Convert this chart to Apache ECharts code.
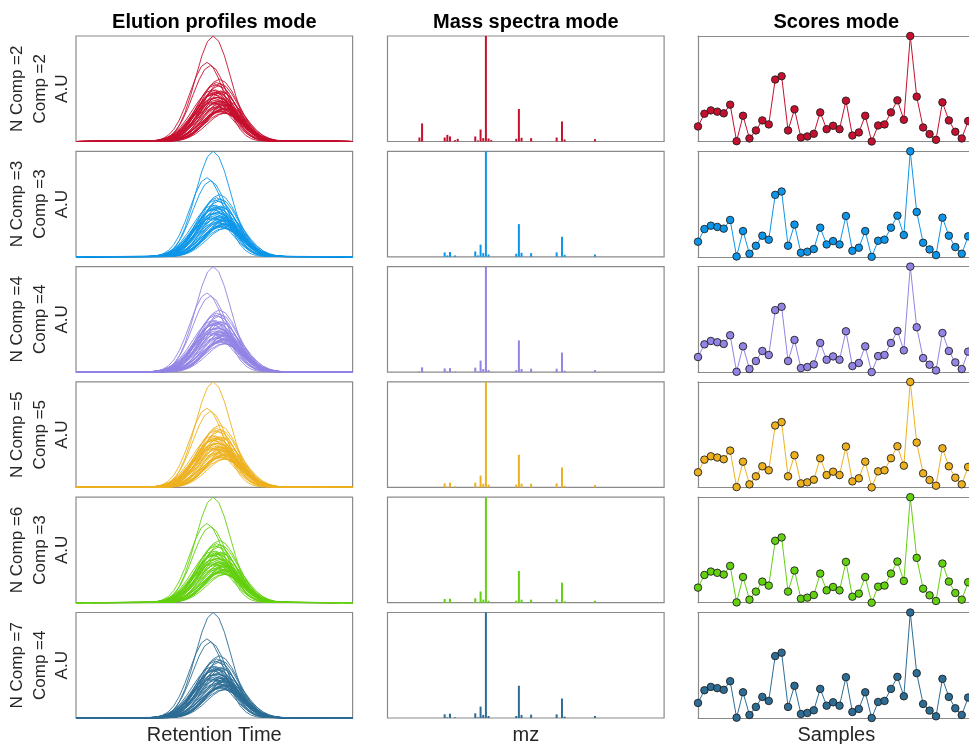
<!DOCTYPE html>
<html>
<head>
<meta charset="utf-8">
<script src="https://cdn.jsdelivr.net/npm/echarts@6/dist/echarts.min.js"></script>
<style>
  html, body { margin: 0; padding: 0; background: #fff; }
  #chart { width: 969px; height: 744px; }
</style>
</head>
<body>
<div id="chart"></div>
<script>
// ---- data ----
const colTitles = ['Elution profiles mode', 'Mass spectra mode', 'Scores mode'];
const colXLabels = ['Retention Time', 'mz', 'Samples'];
const modelComps = [2, 3, 4, 5, 6, 7];
const compIndex = [2, 3, 4, 5, 3, 4];
const rowColors = ['#C6102F', '#0D96E9', '#9284E4', '#EDB120', '#63D010', '#2D6D95'];

// normalised elution shape, sampled on the retention grid (peak at index 10)
const elutionShape = [0.006, 0.015, 0.036, 0.078, 0.153, 0.272, 0.435, 0.626, 0.812, 0.949, 1,
                      0.949, 0.812, 0.626, 0.435, 0.272, 0.153, 0.078, 0.036, 0.015, 0.006];
// per-sample elution peak height, apex retention and spread
const elutionHeights = [0.37, 0.46, 0.49, 0.48, 0.47, 0.53, 0.27, 0.45, 0.29, 0.35, 0.42,
                        0.39, 0.72, 0.75, 0.35, 0.49, 0.30, 0.31, 0.32, 0.47, 0.36, 0.38,
                        0.36, 0.55, 0.31, 0.33, 0.45, 0.27, 0.38, 0.39, 0.47, 0.56, 0.42,
                        1.00, 0.59, 0.37, 0.32, 0.28, 0.54, 0.42, 0.34, 0.29, 0.41, 0.38];
const elutionApex = [24.6, 25.1, 24.2, 25.6, 24.9, 25.3, 26.2, 24.4, 25.8, 26.6, 24.8,
                     25.4, 23.8, 23.2, 26.0, 24.7, 25.9, 26.4, 25.2, 24.5, 25.7, 26.8,
                     24.9, 25.5, 26.1, 25.0, 24.3, 26.5, 25.3, 24.6, 25.8, 24.9, 25.2,
                     24.3, 25.4, 24.0, 26.3, 25.6, 24.7, 25.1, 26.0, 25.5, 24.4, 25.9];
const elutionSpread = [1.10, 1.05, 1.15, 1.08, 1.20, 1.02, 1.12, 1.18, 1.06, 1.10, 1.22,
                       1.04, 1.00, 0.98, 1.14, 1.09, 1.16, 1.07, 1.20, 1.03, 1.12, 1.05,
                       1.18, 1.08, 1.10, 1.24, 1.02, 1.06, 1.15, 1.20, 1.04, 1.11, 1.17,
                       1.00, 1.09, 1.13, 1.05, 1.19, 1.07, 1.14, 1.02, 1.10, 1.21, 1.06];

// mass spectra: channel positions and relative intensity per model row
const mzChannels = [12, 13, 21.5, 22.5, 23.5, 25.4, 26.4, 33, 34, 35, 36, 37, 38, 39,
                    48.4, 49.4, 50.4, 54, 63.6, 65.6, 66.6, 78];
const spectrum2 = [0.038, 0.171, 0.038, 0.063, 0.048, 0.013, 0.025, 0.048, 0.010, 0.114, 0.032, 1, 0.029, 0.013,
                   0.025, 0.308, 0.035, 0.032, 0.038, 0.190, 0.019, 0.022];
const spectrum3 = [0, 0, 0.042, 0.013, 0.045, 0.013, 0, 0.051, 0.013, 0.115, 0.035, 1, 0.022, 0,
                   0.029, 0.310, 0.038, 0.035, 0.042, 0.190, 0.019, 0.022];
const spectrum4 = [0.006, 0.045, 0.035, 0.006, 0.038, 0.006, 0, 0.042, 0.006, 0.109, 0.029, 1, 0.019, 0,
                   0.019, 0.300, 0.029, 0.032, 0.032, 0.185, 0.013, 0.019];
const spectrum5 = [0, 0, 0.038, 0.006, 0.045, 0.010, 0, 0.045, 0.006, 0.112, 0.035, 1, 0.026, 0,
                   0.026, 0.310, 0.035, 0.035, 0.038, 0.189, 0.016, 0.022];
const spectrum6 = [0, 0, 0.035, 0.006, 0.038, 0.006, 0, 0.042, 0.006, 0.106, 0.029, 1, 0.019, 0,
                   0.019, 0.300, 0.029, 0.029, 0.032, 0.190, 0.013, 0.019];
const spectrum7 = [0, 0, 0.035, 0.006, 0.041, 0.006, 0, 0.045, 0.006, 0.108, 0.029, 1, 0.019, 0,
                   0.019, 0.306, 0.029, 0.032, 0.035, 0.185, 0.013, 0.019];
const spectra = [spectrum2, spectrum3, spectrum4, spectrum5, spectrum6, spectrum7];

// sample scores (1..44)
const scores = [0.143, 0.263, 0.295, 0.283, 0.267, 0.349, 0.003, 0.244, 0.029, 0.105, 0.200,
                0.162, 0.587, 0.619, 0.105, 0.305, 0.038, 0.048, 0.073, 0.276, 0.117, 0.149,
                0.117, 0.387, 0.057, 0.086, 0.244, 0.000, 0.152, 0.162, 0.276, 0.390, 0.206,
                1.000, 0.425, 0.133, 0.070, 0.016, 0.371, 0.200, 0.092, 0.029, 0.194, 0.150];

// ---- layout ----
const CHART_W = 969;
const COL_LEFT = [76, 387.5, 698];
const COL_W = 276.6;
const ROW_TOP = 36;
const ROW_PITCH = 115.3;
const ROW_H = 105.5;
const RT_MAX = 49;
const MZ_MAX = 104;
const FONT = '"Liberation Sans", Arial, Helvetica, sans-serif';
const TEXT_COLOR = '#262626';
const FRAME = { color: '#8a8a8a', width: 1.2 };

const grids = [], xAxes = [], yAxes = [], series = [], graphics = [];

// closed box panel
function addGrid(row, col, xMin, xMax) {
  grids.push({
    left: COL_LEFT[col], top: ROW_TOP + row * ROW_PITCH, width: COL_W, height: ROW_H,
    show: true, borderColor: FRAME.color, borderWidth: FRAME.width, backgroundColor: 'transparent'
  });
  const gi = grids.length - 1;
  xAxes.push({ gridIndex: gi, type: 'value', min: xMin, max: xMax, show: false });
  yAxes.push({ gridIndex: gi, type: 'value', min: 0, max: 1, show: false });
  return { xi: xAxes.length - 1, yi: yAxes.length - 1 };
}

// the scores panel runs past the right edge of the page; the grid is cut
// at the page edge, so the sample axis is cut at the same place
function addOpenGrid(row, col, xMin, xMax) {
  const visibleW = Math.min(COL_W, CHART_W - COL_LEFT[col]);
  const cutMax = xMin + (xMax - xMin) * visibleW / COL_W;
  grids.push({
    left: COL_LEFT[col], top: ROW_TOP + row * ROW_PITCH, width: visibleW, height: ROW_H, show: false
  });
  const gi = grids.length - 1;
  const frameLine = { show: true, onZero: false, lineStyle: { color: FRAME.color, width: FRAME.width } };
  const hidden = { axisTick: { show: false }, axisLabel: { show: false }, splitLine: { show: false } };
  xAxes.push(Object.assign({ gridIndex: gi, type: 'value', min: xMin, max: cutMax, position: 'bottom', axisLine: frameLine }, hidden));
  const xi = xAxes.length - 1;
  xAxes.push(Object.assign({ gridIndex: gi, type: 'value', min: xMin, max: cutMax, position: 'top', axisLine: frameLine }, hidden));
  yAxes.push(Object.assign({ gridIndex: gi, type: 'value', min: 0, max: 1, position: 'left', axisLine: frameLine }, hidden));
  return { xi: xi, yi: yAxes.length - 1 };
}

modelComps.forEach((nComp, r) => {
  const color = rowColors[r];

  // elution profiles: one curve per sample
  let ax = addGrid(r, 0, 0, RT_MAX);
  elutionHeights.forEach((h, s) => {
    const pts = [[0, 0]];
    elutionShape.forEach((v, k) => {
      pts.push([elutionApex[s] + (k - 10) * elutionSpread[s], h * v]);
    });
    pts.push([RT_MAX, 0]);
    series.push({
      type: 'line', xAxisIndex: ax.xi, yAxisIndex: ax.yi, data: pts,
      symbol: 'none', silent: true, animation: false,
      lineStyle: { color: color, width: 0.9 }
    });
  });

  // mass spectrum sticks
  ax = addGrid(r, 1, 0, MZ_MAX);
  series.push({
    type: 'bar', xAxisIndex: ax.xi, yAxisIndex: ax.yi, barWidth: 2, animation: false,
    data: mzChannels.map((m, i) => [m, spectra[r][i]]),
    itemStyle: { color: color }
  });

  // scores
  ax = addOpenGrid(r, 2, 1, scores.length);
  series.push({
    type: 'line', xAxisIndex: ax.xi, yAxisIndex: ax.yi, animation: false, clip: false,
    data: scores.map((v, i) => [i + 1, v]),
    symbol: 'circle', symbolSize: 7.5, showAllSymbol: true,
    lineStyle: { color: color, width: 1 },
    itemStyle: { color: color, borderColor: '#1f1f1f', borderWidth: 0.9 }
  });

  // row label
  graphics.push({
    type: 'text', x: 40, y: ROW_TOP + r * ROW_PITCH + ROW_H / 2, rotation: Math.PI / 2,
    style: {
      text: 'N Comp =' + nComp + '\nComp =' + compIndex[r] + '\nA.U',
      font: '17px ' + FONT, fill: TEXT_COLOR, lineHeight: 22.5,
      textAlign: 'center', textVerticalAlign: 'middle'
    }
  });
});

// column titles and bottom labels
colTitles.forEach((t, c) => {
  const cx = COL_LEFT[c] + COL_W / 2;
  graphics.push({
    type: 'text', x: cx, y: 22,
    style: { text: t, font: 'bold 20px ' + FONT, fill: '#000', textAlign: 'center', textVerticalAlign: 'middle' }
  });
  graphics.push({
    type: 'text', x: cx, y: 735.5,
    style: { text: colXLabels[c], font: '20px ' + FONT, fill: TEXT_COLOR, textAlign: 'center', textVerticalAlign: 'middle' }
  });
});

const chart = echarts.init(document.getElementById('chart'), null, { renderer: 'canvas' });
chart.setOption({
  animation: false,
  backgroundColor: '#fff',
  grid: grids,
  xAxis: xAxes,
  yAxis: yAxes,
  series: series,
  graphic: graphics
});
</script>
</body>
</html>
